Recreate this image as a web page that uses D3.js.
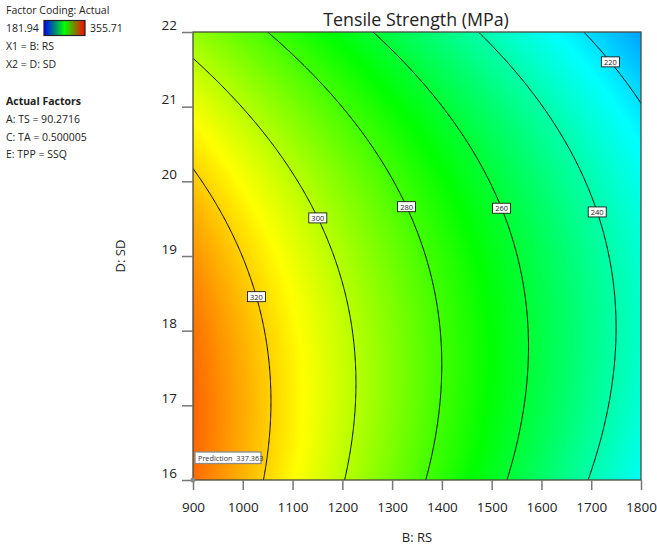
<!DOCTYPE html>
<html>
<head>
<meta charset="utf-8">
<script src="https://cdn.jsdelivr.net/npm/d3@7"></script>
<style>
  body { margin: 0; background: #fff; }
  svg { display: block; font-family: "Open Sans", "Noto Sans", "DejaVu Sans", sans-serif; }
</style>
</head>
<body>
<svg id="chart" width="657" height="548"></svg>
<script>
// Factor ranges (actual units) and tick values
const rsDomain = [900, 1800];
const sdDomain = [16, 22];
const rsTicks = [900, 1000, 1100, 1200, 1300, 1400, 1500, 1600, 1700, 1800];
const sdTicks = [16, 17, 18, 19, 20, 21, 22];

// Quadratic response model in coded factors x1 (RS) and x2 (SD):
// intercept, x1, x2, x1*x2, x1^2, x2^2
const modelCoefs = [281.87, -48.85, -15.25, 6.35, 0, -14.96];

// Contour levels and the SD value where each level's tag sits
const contourLevels = [220, 240, 260, 280, 300, 320];
const labelSD = [21.6, 19.59, 19.64, 19.66, 19.51, 18.455];

// Response range of the colour ramp
const responseRange = [181.94, 355.71];
const fillStops = ["#0000ff", "#00ffff", "#00ff00", "#ffff00", "#ff0000"];
const legendStops = ["#0000ff", "#00ff00", "#ff0000"];

// Flagged design point: RS, SD, predicted value
const prediction = [900, 16, 337.363];

const factorLines = ["X1 = B: RS", "X2 = D: SD"];
const actualFactors = ["A: TS = 90.2716", "C: TA = 0.500005", "E: TPP = SSQ"];

const svg = d3.select("#chart");
const plot = { left: 193, right: 641, top: 32, bottom: 480 };

const x = d3.scaleLinear().domain(rsDomain).range([plot.left, plot.right]);
const y = d3.scaleLinear().domain(sdDomain).range([plot.bottom, plot.top]);

// coded units
const codeRS = d3.scaleLinear().domain(rsDomain).range([-1, 1]);
const codeSD = d3.scaleLinear().domain(sdDomain).range([-1, 1]);

function response(rs, sd) {
  const a = codeRS(rs), b = codeSD(sd);
  const [c0, c1, c2, c12, c11, c22] = modelCoefs;
  return c0 + c1 * a + c2 * b + c12 * a * b + c11 * a * a + c22 * b * b;
}

// RS (actual) at which the response equals `level` for a given SD
function rsAtLevel(level, sd) {
  const b = codeSD(sd);
  const [c0, c1, c2, c12, c11, c22] = modelCoefs;
  const A = c11, B = c1 + c12 * b, C = c0 + c2 * b + c22 * b * b - level;
  let a;
  if (Math.abs(A) < 1e-12) a = -C / B;
  else {
    const disc = Math.max(0, B * B - 4 * A * C);
    const r1 = (-B + Math.sqrt(disc)) / (2 * A), r2 = (-B - Math.sqrt(disc)) / (2 * A);
    a = Math.abs(r1) < Math.abs(r2) ? r1 : r2;
  }
  return codeRS.invert(a);
}

const fillColor = d3.scaleLinear()
  .domain(d3.range(fillStops.length).map(i => responseRange[0] + i * (responseRange[1] - responseRange[0]) / (fillStops.length - 1)))
  .range(fillStops)
  .interpolate(d3.interpolateRgb)
  .clamp(true);

// ---- raster fill of the response surface ----
const pw = plot.right - plot.left, ph = plot.bottom - plot.top;
const canvas = document.createElement("canvas");
canvas.width = pw; canvas.height = ph;
const ctx = canvas.getContext("2d");
const img = ctx.createImageData(pw, ph);
for (let j = 0; j < ph; j++) {
  const sd = y.invert(plot.top + j + 0.5);
  for (let i = 0; i < pw; i++) {
    const rs = x.invert(plot.left + i + 0.5);
    const c = d3.rgb(fillColor(response(rs, sd)));
    const k = (j * pw + i) * 4;
    img.data[k] = c.r; img.data[k + 1] = c.g; img.data[k + 2] = c.b; img.data[k + 3] = 255;
  }
}
ctx.putImageData(img, 0, 0);

const defs = svg.append("defs");
defs.append("clipPath").attr("id", "plot-clip")
  .append("rect").attr("x", plot.left).attr("y", plot.top).attr("width", pw).attr("height", ph);

svg.append("image")
  .attr("x", plot.left).attr("y", plot.top)
  .attr("width", pw).attr("height", ph)
  .attr("preserveAspectRatio", "none")
  .attr("href", canvas.toDataURL());

// ---- contour lines ----
const sdSamples = d3.range(0, 401).map(i => sdDomain[0] + (sdDomain[1] - sdDomain[0]) * i / 400);
const line = d3.line().x(d => x(d[0])).y(d => y(d[1]));
const contourG = svg.append("g").attr("clip-path", "url(#plot-clip)");
contourLevels.forEach(level => {
  const pts = sdSamples.map(sd => [rsAtLevel(level, sd), sd]);
  contourG.append("path")
    .attr("d", line(pts))
    .attr("fill", "none")
    .attr("stroke", "#000")
    .attr("stroke-width", 1);
});

// contour tags
contourLevels.forEach((level, i) => {
  const sd = labelSD[i];
  const cx = x(rsAtLevel(level, sd)), cy = y(sd);
  const g = svg.append("g").attr("transform", `translate(${cx},${cy})`);
  g.append("rect").attr("x", -9).attr("y", -5).attr("width", 18).attr("height", 10)
    .attr("fill", "#fff").attr("stroke", "#000").attr("stroke-width", 0.8);
  g.append("text").attr("text-anchor", "middle").attr("y", 2.8)
    .attr("font-size", 7.5).attr("fill", "#222").text(level);
});

// ---- frame ----
svg.append("rect")
  .attr("x", plot.left).attr("y", plot.top).attr("width", pw).attr("height", ph)
  .attr("fill", "none").attr("stroke", "#4a4a40").attr("stroke-width", 1.3);

// ---- axes ----
const tickFont = "\"Open Sans\", \"Noto Sans\", sans-serif";
const xAxis = svg.append("g")
  .attr("transform", `translate(0,${plot.bottom})`)
  .call(d3.axisBottom(x).tickValues(rsTicks).tickFormat(d3.format("d")).tickSize(10).tickPadding(12));
xAxis.select(".domain").remove();
xAxis.selectAll(".tick line").attr("stroke", "#777").attr("stroke-width", 1.5);
xAxis.selectAll(".tick text").attr("font-size", 13.5).attr("fill", "#222")
  .attr("font-family", tickFont);

const yAxis = svg.append("g")
  .attr("transform", `translate(${plot.left},0)`)
  .call(d3.axisLeft(y).tickValues(sdTicks).tickFormat(d3.format("d")).tickSize(11).tickPadding(5));
yAxis.select(".domain").remove();
yAxis.selectAll(".tick line").attr("stroke", "#777").attr("stroke-width", 1.5);
yAxis.selectAll(".tick text").attr("font-size", 13.5).attr("fill", "#222")
  .attr("dy", 0).attr("y", -3)
  .attr("font-family", tickFont);

// ---- titles ----
svg.append("text").attr("x", 416).attr("y", 26).attr("text-anchor", "middle")
  .attr("font-size", 17.8).attr("fill", "#222").text("Tensile Strength (MPa)");
svg.append("text").attr("x", 417).attr("y", 542).attr("text-anchor", "middle")
  .attr("font-size", 13).attr("fill", "#222").text("B: RS");
svg.append("text").attr("transform", "translate(125,256) rotate(-90)").attr("text-anchor", "middle")
  .attr("font-size", 13).attr("fill", "#222").text("D: SD");

// ---- prediction flag ----
svg.append("circle").attr("cx", x(prediction[0])).attr("cy", y(prediction[1])).attr("r", 2.5)
  .attr("fill", "#888");
const pg = svg.append("g").attr("transform", `translate(${x(prediction[0]) + 2},${y(prediction[1]) - 28})`);
pg.append("rect").attr("x", 0).attr("y", 0).attr("width", 66).attr("height", 11.5)
  .attr("fill", "#fff").attr("stroke", "#8a8a8a").attr("stroke-width", 1.3);
pg.append("text").attr("x", 3).attr("y", 8.5).attr("font-size", 7.3).attr("fill", "#333")
  .attr("xml:space", "preserve")
  .text("Prediction  " + d3.format(".3f")(prediction[2]));

// ---- side panel ----
const side = svg.append("g").attr("font-size", 10.5).attr("fill", "#222");
side.append("text").attr("x", 6).attr("y", 14).text("Factor Coding: Actual");
side.append("text").attr("x", 6).attr("y", 32).text(responseRange[0]);
const grad = defs.append("linearGradient").attr("id", "legend-grad");
legendStops.forEach((c, i) => grad.append("stop")
  .attr("offset", i / (legendStops.length - 1)).attr("stop-color", c));
side.append("rect").attr("x", 44).attr("y", 20.5).attr("width", 41).attr("height", 15)
  .attr("fill", "url(#legend-grad)").attr("stroke", "#222").attr("stroke-width", 1.2);
side.append("text").attr("x", 90).attr("y", 32).text(responseRange[1]);
factorLines.forEach((t, i) => side.append("text").attr("x", 6).attr("y", 50 + i * 17.5).text(t));
side.append("text").attr("x", 6).attr("y", 105).attr("font-weight", "bold").text("Actual Factors");
actualFactors.forEach((t, i) => side.append("text").attr("x", 6).attr("y", 123 + i * 17.5).text(t));
</script>
</body>
</html>
